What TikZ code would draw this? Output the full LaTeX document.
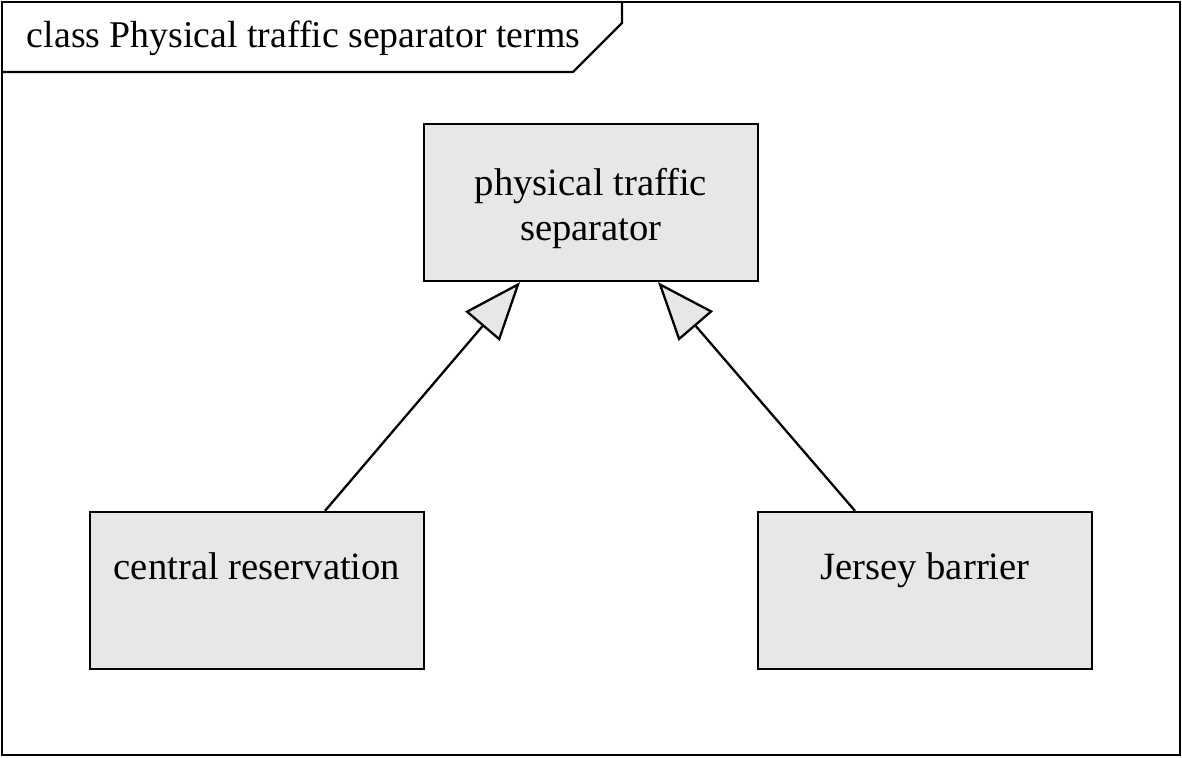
\documentclass[tikz,border=0pt]{standalone}
\usepackage{fontspec}
\setmainfont{Liberation Serif}
\usetikzlibrary{arrows.meta}
\definecolor{boxgray}{HTML}{E6E7E8}
\begin{document}
\begin{tikzpicture}[x=0.02cm,y=-0.02cm,line width=1.3pt,
    term/.style={draw, rectangle, fill=boxgray, minimum width=6.68cm, minimum height=3.14cm, align=center, font=\fontsize{22}{26}\selectfont},
    gen/.style={-{Triangle[open,length=1.16cm,width=0.9cm,fill=boxgray]}}]
        \useasboundingbox (0,0) rectangle (1182,757);
        \draw (2,2) rectangle (1180,755);
        \draw (2,72) -- (573,72) -- (622,23) -- (622,2);
        \node (title) [anchor=base west, font=\fontsize{21.5}{26}\selectfont] at (20,48) {class Physical traffic separator terms};

        \node (sep) [term, text height=1.7cm, text depth=0.16cm] at (591,202.5) {physical traffic\\separator};
        \node (central) [term, text height=0.4cm, text depth=0.86cm] at (257,590.5) {central reservation};
        \node (jersey) [term, text height=0.4cm, text depth=0.86cm] at (925,590.5) {Jersey barrier};

        \coordinate (c1) at ([xshift=1.36cm]central.north);
        \coordinate (s1) at ([xshift=-1.42cm]sep.south);
        \coordinate (j1) at ([xshift=-1.4cm]jersey.north);
        \coordinate (s2) at ([xshift=1.34cm]sep.south);
        \draw[gen] (c1) -- (s1);
        \draw[gen] (j1) -- (s2);
    \end{tikzpicture}
\end{document}
